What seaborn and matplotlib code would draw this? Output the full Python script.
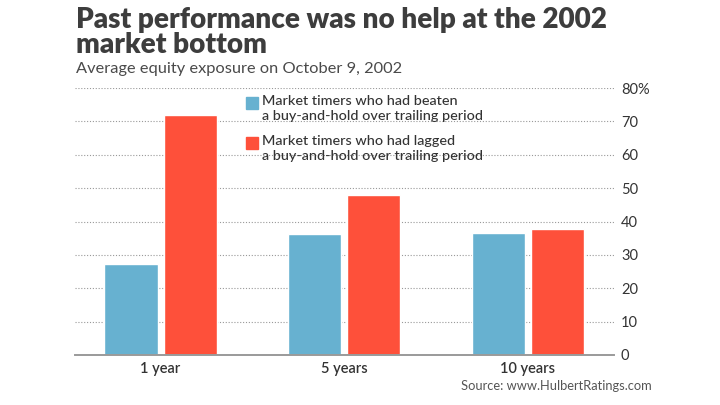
import matplotlib
matplotlib.use("Agg")
import matplotlib.pyplot as plt
from matplotlib.patches import Rectangle
import seaborn as sns
import pandas as pd

categories = ["1 year", "5 years", "10 years"]
series_names = ["Market timers who had beaten\na buy-and-hold over trailing period",
                "Market timers who had lagged\na buy-and-hold over trailing period"]
beaten = [27.3, 36.3, 36.7]
lagged = [72.0, 47.8, 37.7]
ytick_values = [0, 10, 20, 30, 40, 50, 60, 70, 80]
ytick_labels = ["0", "10", "20", "30", "40", "50", "60", "70", "80%"]

colors = ["#67b1d0", "#fe503a"]
text_color = "#333333"

df = pd.DataFrame({
    "period": categories * 2,
    "series": [series_names[0]] * 3 + [series_names[1]] * 3,
    "value": beaten + lagged,
})

sns.set_theme(style="white")
plt.rcParams["font.family"] = ["Lato", "DejaVu Sans"]

fig = plt.figure(figsize=(7.2, 4.05), dpi=100)
ax = fig.add_axes([75 / 720, 1 - 355 / 405, (614 - 75) / 720, (355 - 88) / 405])

sns.barplot(data=df, x="period", y="value", hue="series", order=categories,
            hue_order=series_names, palette=colors, width=0.644, gap=0.1,
            ax=ax, legend=False, saturation=1)

ax.set_xlim(-0.466, 2.47)
ax.set_ylim(0, 80)
ax.yaxis.tick_right()
ax.set_yticks(ytick_values)
ax.set_yticklabels(ytick_labels)
ax.tick_params(axis="y", length=0, pad=5, labelsize=10.5, labelcolor=text_color)
ax.tick_params(axis="x", length=0, pad=5, labelsize=10.5, labelcolor=text_color)
for lab in ax.get_xticklabels():
    lab.set_fontweight("semibold")
ax.set_xlabel("")
ax.set_ylabel("")
for s in ["top", "left", "right"]:
    ax.spines[s].set_visible(False)
ax.spines["bottom"].set_color("#9a9a9a")
ax.spines["bottom"].set_linewidth(1.4)
ax.yaxis.grid(True, linestyle=(0, (1, 1.6)), color="#999999", linewidth=0.8)
ax.set_axisbelow(True)
ax.set_facecolor("white")

# Legend (manual, handles aligned with first text line)
leg_y = [103, 143]
for c, name, yy in zip(colors, series_names, leg_y):
    fig.patches.append(Rectangle((246 / 720, 1 - (yy + 6) / 405), 12 / 720, 12 / 405,
                                 transform=fig.transFigure, color=c, zorder=5))
    fig.text(262 / 720, 1 - (yy - 8) / 405, name, fontsize=10.4, color=text_color,
             fontweight="medium", va="top", ha="left", linespacing=1.33)

fig.text(76 / 720, 1 - 7 / 405, "Past performance was no help at the 2002\nmarket bottom",
         fontsize=20.1, fontweight="heavy", color="#3d3d3d", va="top", ha="left",
         linespacing=0.97)
fig.text(76 / 720, 1 - 62 / 405, "Average equity exposure on October 9, 2002",
         fontsize=11.8, fontweight="normal", color="#4a4a4a", va="top", ha="left")
fig.text(652 / 720, 1 - 390 / 405, "Source: www.HulbertRatings.com",
         fontsize=9.3, color="#555555", va="baseline", ha="right")

fig.savefig("out.png", dpi=100, facecolor="white")
